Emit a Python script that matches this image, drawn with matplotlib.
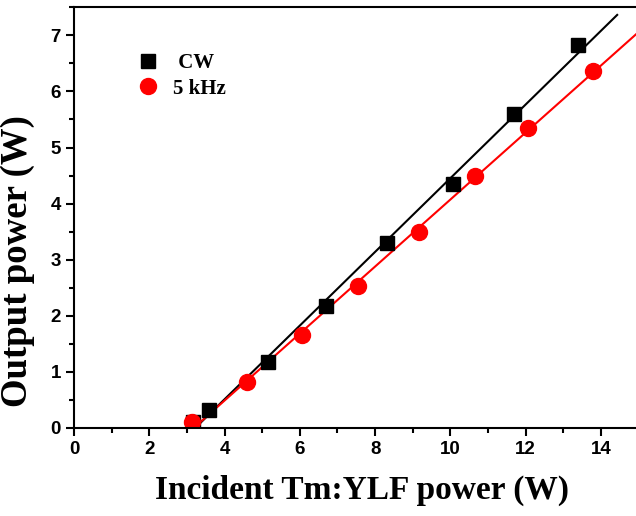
import numpy as np
import matplotlib
matplotlib.use("Agg")
import matplotlib.pyplot as plt
from matplotlib.ticker import MultipleLocator

# incident pump power (W) and output power (W)
cw_x = [3.16, 3.59, 5.16, 6.70, 8.32, 10.07, 11.69, 13.39]
cw_y = [0.10, 0.32, 1.18, 2.18, 3.30, 4.35, 5.60, 6.83]
q_x = [3.13, 4.60, 6.06, 7.55, 9.17, 10.65, 12.06, 13.79]
q_y = [0.10, 0.82, 1.66, 2.53, 3.50, 4.50, 5.35, 6.37]

fig = plt.figure(figsize=(6.36, 5.16), dpi=100)
ax = fig.add_axes([74/636, 1-428/516, 562/636, 420.7/516])

# linear fits
k1, b1 = np.polyfit(cw_x, cw_y, 1)
k2, b2 = np.polyfit(q_x, q_y, 1)
xf1 = np.linspace(-b1/k1, 14.43, 50)
xf2 = np.linspace(-b2/k2, 14.95, 50)
ax.plot(xf1, k1*xf1 + b1, color='black', lw=1.5)
ax.plot(xf2, k2*xf2 + b2, color='red', lw=1.5)

ax.plot(cw_x, cw_y, 's', color='black', ms=10.5, ls='none', label=' CW')
ax.plot(q_x, q_y, 'o', color='red', ms=11.5, ls='none', label='5 kHz')

ax.set_xlim(0, 14.93)
ax.set_ylim(0, 7.5)
ax.xaxis.set_major_locator(MultipleLocator(2))
ax.xaxis.set_minor_locator(MultipleLocator(1))
ax.yaxis.set_major_locator(MultipleLocator(1))
ax.yaxis.set_minor_locator(MultipleLocator(0.5))
ax.tick_params(which='major', direction='out', length=6, width=1.5)
ax.tick_params(which='minor', direction='out', length=3.5, width=1.5)
for t in ax.get_xticklabels() + ax.get_yticklabels():
    t.set_fontfamily('Liberation Sans')
    t.set_fontweight('bold')
    t.set_fontsize(13.5)
for s in ['left', 'bottom', 'top']:
    ax.spines[s].set_linewidth(1.5)
ax.spines['right'].set_visible(False)

ax.set_xlabel('Incident Tm:YLF power (W)', fontfamily='Liberation Serif',
              fontweight='bold', fontsize=24)
ax.set_ylabel('Output power (W)', fontfamily='Liberation Serif',
              fontweight='bold', fontsize=26.5)
ax.xaxis.set_label_coords(0.5125, -0.110)
ax.yaxis.set_label_coords(-0.069, 0.397)

leg = ax.legend(loc='upper left', bbox_to_anchor=(0.076, 0.935), frameon=False,
                handlelength=1.2, handletextpad=0.6, labelspacing=0.25,
                prop={'family': 'Liberation Serif', 'weight': 'bold', 'size': 15})

fig.savefig('out.png', dpi=100)
